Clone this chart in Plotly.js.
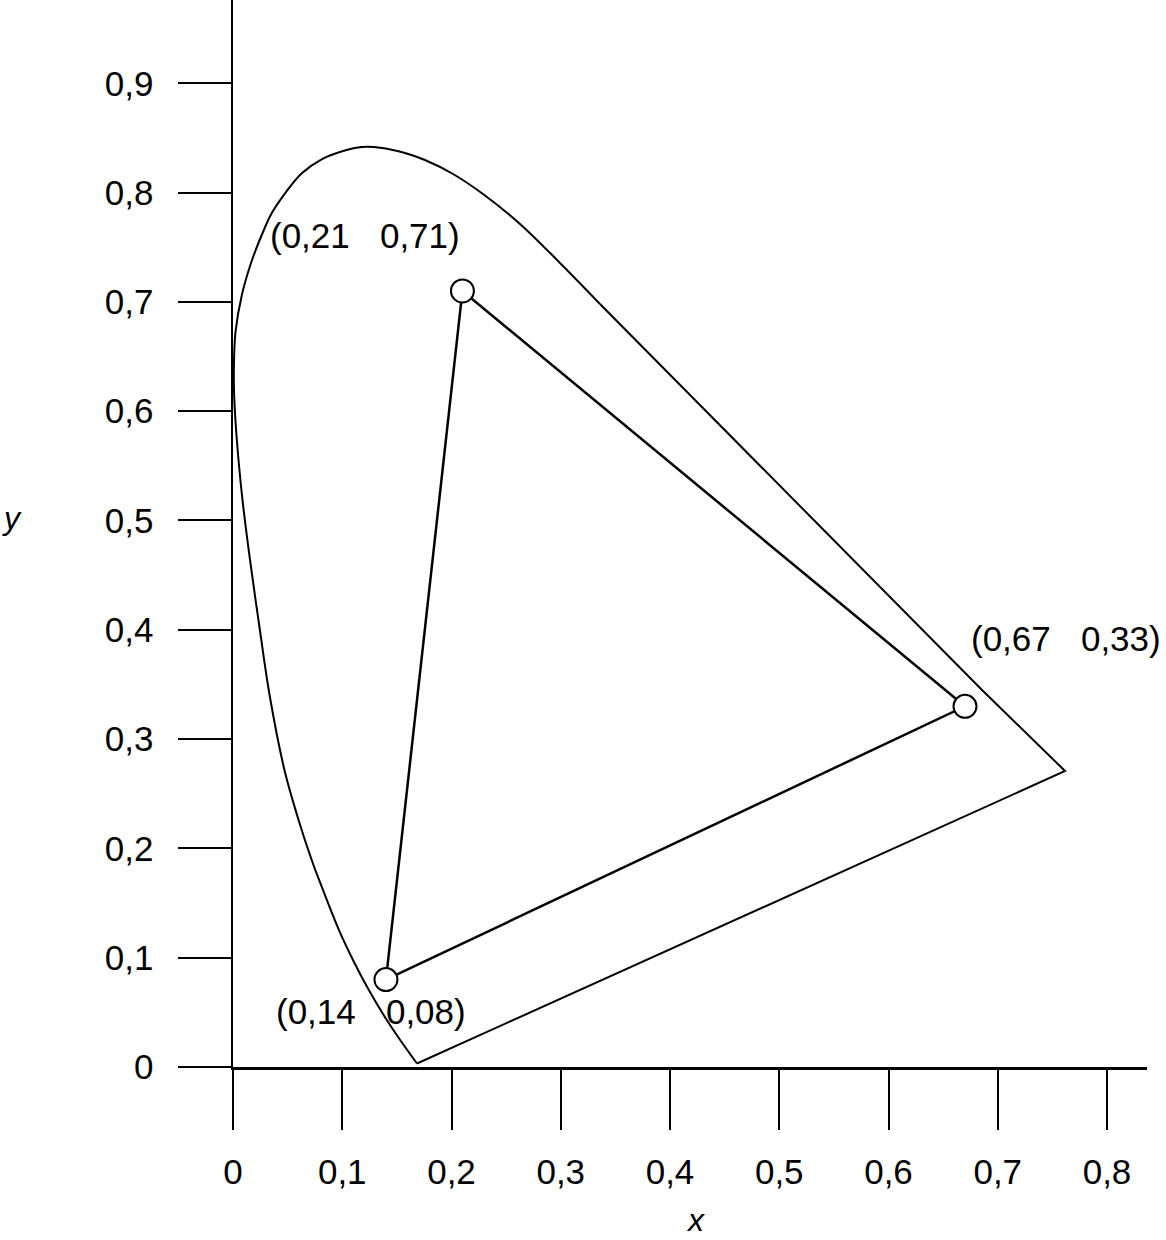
<!DOCTYPE html>
<html>
<head>
<meta charset="utf-8">
<script src="https://cdn.plot.ly/plotly-3.0.1.min.js"></script>
<style>
  html, body { margin: 0; padding: 0; background: #ffffff; }
  #chart { width: 1166px; height: 1240px; }
</style>
</head>
<body>
<div id="chart"></div>
<script>
// ---- Data ----
// Curved part of the spectral locus (from the bottom end, up the left side, over the top)
const locusCurveX = [0.1684, 0.1530, 0.1390, 0.1228, 0.1112, 0.0970, 0.0813, 0.0730, 0.0600, 0.0471,
                     0.0338, 0.0246, 0.0151, 0.0088, 0.0053, 0.0024, 0.0009, 0.0009, 0.0023, 0.0081,
                     0.0168, 0.0263, 0.0355, 0.0485, 0.0632, 0.0815, 0.1007, 0.1181, 0.1364, 0.1574,
                     0.1757, 0.2014, 0.2288, 0.2627, 0.2993, 0.3359];
const locusCurveY = [0.0032, 0.0247, 0.0457, 0.0732, 0.0952, 0.1253, 0.1647, 0.1866, 0.2260, 0.2717,
                     0.3385, 0.3998, 0.4675, 0.5178, 0.5526, 0.5892, 0.6194, 0.6441, 0.6725, 0.7063,
                     0.7365, 0.7612, 0.7813, 0.8005, 0.8179, 0.8307, 0.8381, 0.8417, 0.8408, 0.8362,
                     0.8298, 0.8170, 0.7987, 0.7713, 0.7356, 0.6981];
// Straight edges: right side down to the red corner, then the line back to the bottom end
const locusEdgeX = [0.3359, 0.6856, 0.7616, 0.1684];
const locusEdgeY = [0.6981, 0.3449, 0.2708, 0.0032];

// Primaries (triangle corners) and their labels
const primaryX = [0.21, 0.67, 0.14];
const primaryY = [0.71, 0.33, 0.08];
const primaryLabels = ['(0,21\u00a0\u2002\u200a0,71)', '(0,67\u00a0\u2002\u200a0,33)', '(0,14\u00a0\u2002\u200a0,08)'];
const labelX = [0.1204, 0.7620, 0.1263];
const labelY = [0.7606, 0.3916, 0.0512];

// Axis ticks
const xTickVals = [0, 0.1, 0.2, 0.3, 0.4, 0.5, 0.6, 0.7, 0.8];
const xTickText = ['0', '0,1', '0,2', '0,3', '0,4', '0,5', '0,6', '0,7', '0,8'];
const yTickVals = [0, 0.1, 0.2, 0.3, 0.4, 0.5, 0.6, 0.7, 0.8, 0.9];
const yTickText = ['0', '0,1', '0,2', '0,3', '0,4', '0,5', '0,6', '0,7', '0,8', '0,9'];
const xTitle = 'x';
const yTitle = 'y';

// ---- Build chart ----
const FONT = 'Liberation Sans, Arial, Helvetica, sans-serif';

const triX = primaryX.concat([primaryX[0]]);
const triY = primaryY.concat([primaryY[0]]);

const traces = [
  {
    type: 'scatter', mode: 'lines', x: locusCurveX, y: locusCurveY,
    line: { color: '#000', width: 2, shape: 'spline', smoothing: 1.0 },
    cliponaxis: false, hoverinfo: 'skip'
  },
  {
    type: 'scatter', mode: 'lines', x: locusEdgeX, y: locusEdgeY,
    line: { color: '#000', width: 2 },
    cliponaxis: false, hoverinfo: 'skip'
  },
  {
    type: 'scatter', mode: 'lines', x: triX, y: triY,
    line: { color: '#000', width: 2.5 },
    cliponaxis: false, hoverinfo: 'skip'
  },
  {
    type: 'scatter', mode: 'markers', x: primaryX, y: primaryY,
    marker: { symbol: 'circle', size: 23, color: '#fff', line: { color: '#000', width: 2 } },
    cliponaxis: false, hoverinfo: 'skip'
  }
];

const annotations = primaryLabels.map((t, i) => ({
  x: labelX[i], y: labelY[i], xref: 'x', yref: 'y',
  text: t, showarrow: false, xanchor: 'center', yanchor: 'middle',
  font: { family: FONT, size: 35, color: '#000' }
}));

annotations.push({
  x: -0.2418, y: 0.5145, xref: 'paper', yref: 'paper',
  text: '<i>' + yTitle + '</i>', showarrow: false, xanchor: 'center', yanchor: 'middle',
  font: { family: FONT, size: 32, color: '#000' }
});
annotations.push({
  x: 0.5055, y: -0.1621, xref: 'paper', yref: 'paper',
  text: '<i>' + xTitle + '</i>', showarrow: false, xanchor: 'center', yanchor: 'bottom',
  font: { family: FONT, size: 32, color: '#000' }
});

const layout = {
  width: 1166, height: 1240,
  margin: { l: 233, r: 19, t: 0, b: 173, pad: 0 },
  paper_bgcolor: '#fff', plot_bgcolor: '#fff',
  showlegend: false,
  hovermode: false,
  xaxis: {
    range: [0, 0.8366], autorange: false,
    tickmode: 'array', tickvals: xTickVals, ticktext: xTickText,
    ticks: 'outside', ticklen: 60, tickwidth: 2, tickcolor: '#000',
    showline: true, linecolor: '#000', linewidth: 2.5,
    showgrid: false, zeroline: false,
    tickfont: { family: FONT, size: 35, color: '#000' },
    ticklabelstandoff: 12
  },
  yaxis: {
    range: [0, 0.9762], autorange: false,
    tickmode: 'array', tickvals: yTickVals, ticktext: yTickText,
    ticks: 'outside', ticklen: 53, tickwidth: 2, tickcolor: '#000',
    showline: true, linecolor: '#000', linewidth: 2.5,
    showgrid: false, zeroline: false,
    tickfont: { family: FONT, size: 35, color: '#000' },
    ticklabelstandoff: 17
  },
  annotations: annotations
};

Plotly.newPlot('chart', traces, layout, { displayModeBar: false, staticPlot: true });
</script>
</body>
</html>
